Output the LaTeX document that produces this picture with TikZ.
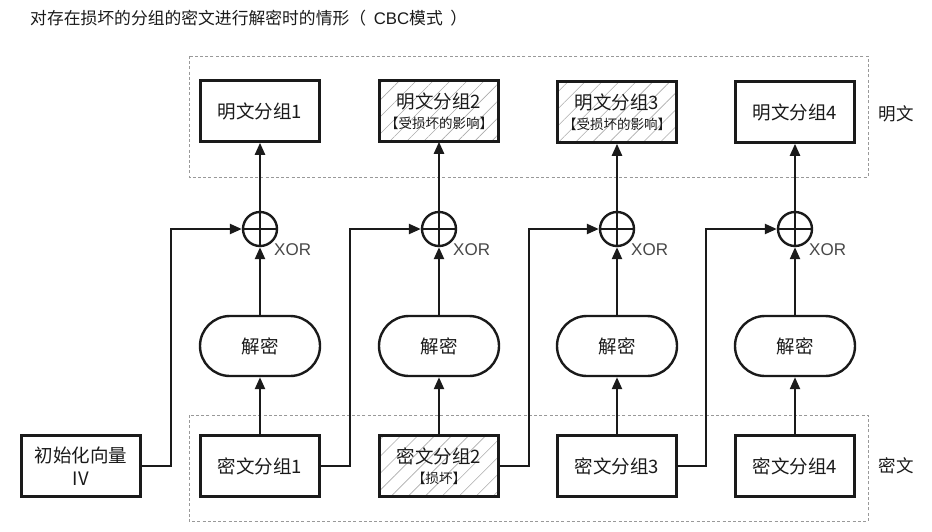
\documentclass[tikz,border=0pt]{standalone}
\usepackage{fontspec}
\setmainfont{Noto Sans CJK SC}
\newfontfamily\latinsans{Liberation Sans}
\usetikzlibrary{arrows.meta,patterns.meta,shapes.misc}
\definecolor{ink}{HTML}{1A1A1A}
\tikzset{
  box/.style={draw=ink, line width=2.6pt, minimum width=119pt, minimum height=61pt, align=center,
    inner sep=0pt, font=\fontsize{18.5}{23}\selectfont, text=ink},
  hatch/.style={pattern={Lines[angle=45,distance=12pt,line width=0.6pt]}, pattern color=gray!65},
  decbox/.style={draw=ink, rounded rectangle, line width=2.4pt, minimum width=120pt, minimum height=60pt,
    inner sep=0pt, font=\fontsize{18.5}{22}\selectfont, text=ink},
  xorc/.style={draw=ink, circle, line width=2.4pt, minimum size=34pt, inner sep=0pt},
  conn/.style={draw=ink, line width=2.3pt},
  arr/.style={conn, -{Triangle[length=12pt,width=10pt]}},
  frame/.style={draw=gray!80, dash pattern=on 3pt off 2.2pt, line width=0.9pt},
  lbl/.style={font=\fontsize{17.5}{20}\selectfont, text=ink},
  xorlbl/.style={font=\latinsans\fontsize{17}{18}\selectfont, text=ink!80, anchor=west, inner sep=0pt}
}
\begin{document}
\begin{tikzpicture}[x=1pt,y=-1pt]
\useasboundingbox[fill=white] (0,0) rectangle (932,531);

% title
\node[font=\fontsize{16.8}{19}\selectfont, text=ink, anchor=west, inner sep=0pt] (title) at (30,18)
  {对存在损坏的分组的密文进行解密时的情形（\hspace{0.45em}{\latinsans CBC}模式\hspace{0.45em}）};

% frames
\draw[frame] (189,56) rectangle (868,177);
\draw[frame] (189,415) rectangle (868,521);
\node[lbl] (lblp) at (896,114) {明文};
\node[lbl] (lblc) at (896,466) {密文};

% plaintext blocks
\node[box] (p1) at (260,111) {明文分组1};
\node[box, hatch] (p2) at (439,111) {明文分组2\\[-3pt]{\fontsize{13.5}{15}\selectfont【受损坏的影响】}};
\node[box, hatch] (p3) at (617,112) {明文分组3\\[-3pt]{\fontsize{13.5}{15}\selectfont【受损坏的影响】}};
\node[box] (p4) at (795,112) {明文分组4};

% xor circles
\foreach \i/\x in {1/260,2/439,3/617,4/795}{
  \node[xorc] (x\i) at (\x,229) {};
  \draw[conn] (x\i.north) -- (x\i.south);
  \draw[conn] (x\i.west) -- (x\i.east);
  \node[xorlbl] (xl\i) at (\x+14,250) {XOR};
}

% decrypt
\node[decbox] (d1) at (260,346) {解密};
\node[decbox] (d2) at (439,346) {解密};
\node[decbox] (d3) at (617,346) {解密};
\node[decbox] (d4) at (795,346) {解密};

% ciphertext blocks
\node[box] (iv) at (81,466) {初始化向量\\IV};
\node[box] (c1) at (260,466) {密文分组1};
\node[box, hatch] (c2) at (439,466) {密文分组2\\[-3pt]{\fontsize{13.5}{15}\selectfont【损坏】}};
\node[box] (c3) at (617,466) {密文分组3};
\node[box] (c4) at (795,466) {密文分组4};

% vertical connectors
\foreach \i in {1,2,3,4}{
  \draw[arr] (x\i.north) -- (p\i.south);
  \draw[arr] (d\i.north) -- (x\i.south);
  \draw[arr] (c\i.north) -- (d\i.south);
}

% feed-forward connectors
\coordinate (k1) at (171,229);
\coordinate (k2) at (350,229);
\coordinate (k3) at (529,229);
\coordinate (k4) at (706,229);
\draw[arr] (iv.east) -| (k1) -- (x1.west);
\draw[arr] (c1.east) -| (k2) -- (x2.west);
\draw[arr] (c2.east) -| (k3) -- (x3.west);
\draw[arr] (c3.east) -| (k4) -- (x4.west);
\end{tikzpicture}
\end{document}
